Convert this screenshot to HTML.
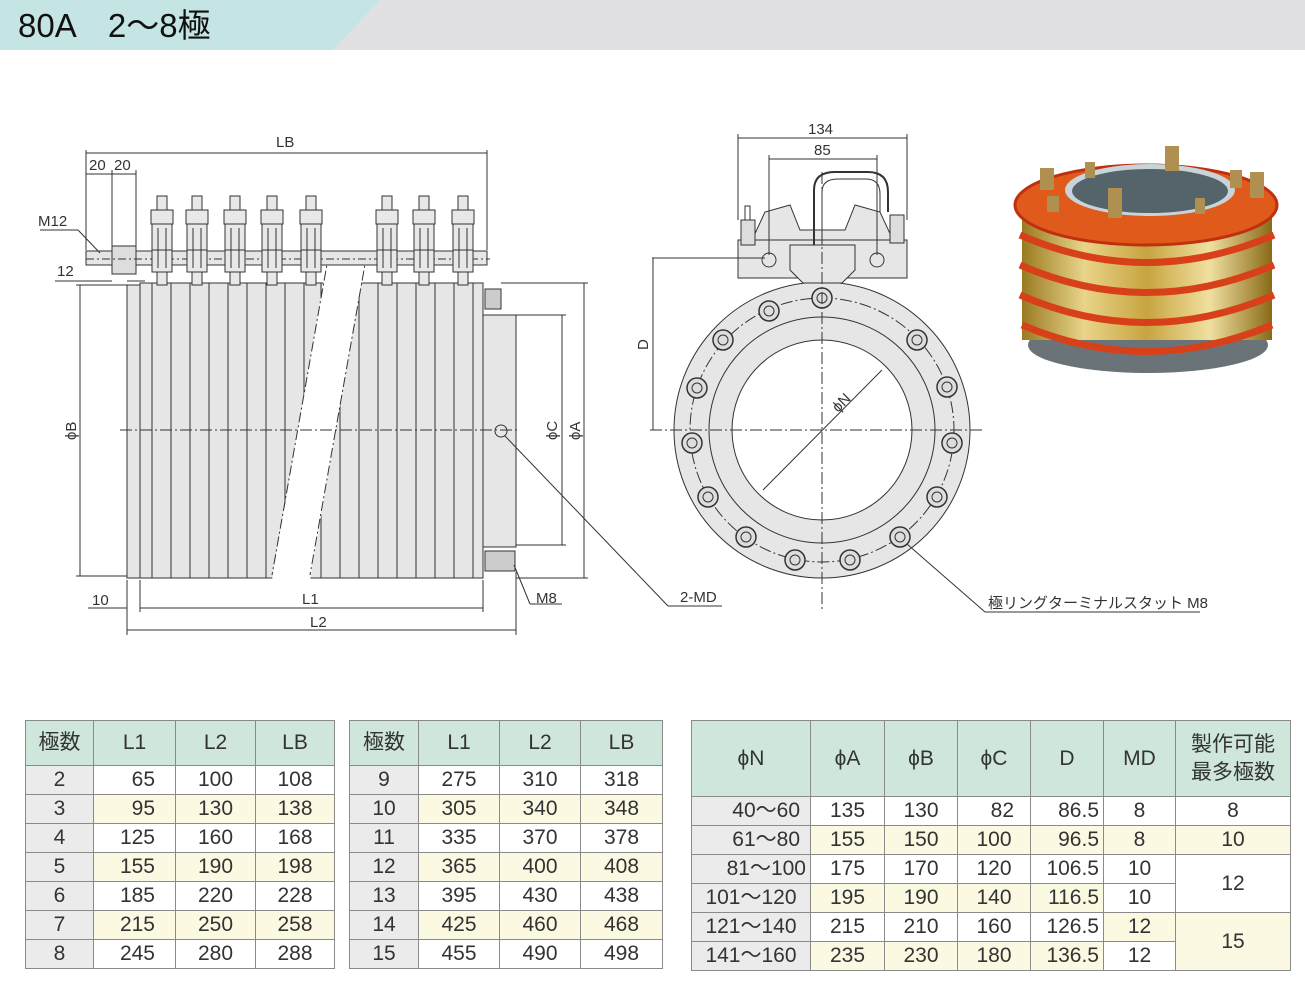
<!DOCTYPE html>
<html><head><meta charset="utf-8">
<style>
body{margin:0;width:1305px;height:987px;background:#fff;position:relative;overflow:hidden;font-family:"Liberation Sans","Noto Sans CJK JP",sans-serif;}
svg{position:absolute;left:0;top:0}
table{position:absolute;border-collapse:collapse;font-size:21px;color:#333;table-layout:fixed}
td{border:1px solid #8a8a8a;height:28px;padding:0;text-align:center;line-height:28px}
tr.h td{background:#cfe7da;height:44px}
td.g{background:#ebebeb}
tr.y td{background:#fcf9e3}
tr.y td.g{background:#ebebeb}
td.r{text-align:right;padding-right:20px}
td.w{background:#fff !important}
td.yy{background:#fcf9e3 !important}
</style></head><body>
<svg width="1305" height="987" viewBox="0 0 1305 987" font-family="Liberation Sans, Noto Sans CJK JP, sans-serif">
<defs>
<linearGradient id="gold" x1="0" x2="1" y1="0" y2="0">
<stop offset="0" stop-color="#9a7a20"/><stop offset="0.25" stop-color="#e8d48a"/><stop offset="0.5" stop-color="#c8a440"/><stop offset="0.75" stop-color="#f0e0a0"/><stop offset="1" stop-color="#8a6a18"/></linearGradient>
<g id="t" fill="#e8e8e8" stroke="#333" stroke-width="1"><rect x="-5" y="196" width="10" height="14"/><rect x="-11" y="210" width="22" height="14"/><rect x="-10" y="224" width="20" height="26"/><rect x="-10" y="250" width="20" height="22"/><rect x="-5" y="272" width="10" height="13"/><line x1="-4" y1="228" x2="-4" y2="268"/><line x1="4" y1="228" x2="4" y2="268"/></g>
</defs>
<!-- header -->
<rect x="0" y="0" width="1305" height="50" fill="#e1e1e5"/>
<polygon points="0,0 380,0 333,50 0,50" fill="#c5e4e4"/>
<text x="18" y="37" font-size="33" fill="#111">80A　2～8極</text>

<g stroke="#333" stroke-width="1" fill="none" font-size="15">
<!-- LEFT DRAWING -->
<rect x="127" y="285" width="13" height="293" fill="#e6e6e6"/>
<g fill="#e6e6e6">
<rect x="140" y="283" width="12" height="295"/><rect x="152" y="283" width="19" height="295"/><rect x="171" y="283" width="19" height="295"/><rect x="190" y="283" width="19" height="295"/><rect x="209" y="283" width="19" height="295"/><rect x="228" y="283" width="19" height="295"/><rect x="247" y="283" width="19" height="295"/><rect x="266" y="283" width="19" height="295"/><rect x="285" y="283" width="19" height="295"/><rect x="304" y="283" width="19" height="295"/>
<rect x="321" y="283" width="19" height="295"/><rect x="340" y="283" width="19" height="295"/><rect x="359" y="283" width="19" height="295"/><rect x="378" y="283" width="19" height="295"/><rect x="397" y="283" width="19" height="295"/><rect x="416" y="283" width="19" height="295"/><rect x="435" y="283" width="19" height="295"/><rect x="454" y="283" width="19" height="295"/><rect x="473" y="283" width="10" height="295"/>
</g>
<polygon points="329,250 367,250 310,580 272,580" fill="#fff" stroke="none"/>
<line x1="329" y1="253" x2="272" y2="575" stroke-dasharray="10,3,2,3"/>
<line x1="367" y1="253" x2="310" y2="575" stroke-dasharray="10,3,2,3"/>
<!-- end block -->
<rect x="483" y="315" width="33" height="232" fill="#e6e6e6"/>
<rect x="485" y="289" width="16" height="20" fill="#ccc"/>
<rect x="485" y="551" width="30" height="20" fill="#ccc"/>
<circle cx="501" cy="431" r="6"/>
<!-- bus bar and stud -->
<rect x="86" y="251" width="401" height="14" fill="#e6e6e6"/>
<rect x="112" y="246" width="24" height="28" fill="#ddd"/>
<line x1="86" y1="259" x2="490" y2="259" stroke-dasharray="8,3,2,3"/>
<use href="#t" x="162"/><use href="#t" x="197"/><use href="#t" x="235"/><use href="#t" x="272"/><use href="#t" x="311"/><use href="#t" x="387"/><use href="#t" x="424"/><use href="#t" x="463"/>
<line x1="120" y1="430" x2="520" y2="430" stroke-dasharray="12,3,2,3"/>
<!-- dimensions -->
<line x1="86" y1="153" x2="487" y2="153"/><line x1="86" y1="150" x2="86" y2="250"/><line x1="487" y1="150" x2="487" y2="250"/>
<line x1="86" y1="174" x2="136" y2="174"/><line x1="112" y1="170" x2="112" y2="246"/><line x1="136" y1="170" x2="136" y2="246"/>
<line x1="40" y1="230" x2="78" y2="230"/><line x1="78" y1="230" x2="100" y2="253"/>
<line x1="55" y1="281" x2="112" y2="281"/><line x1="127" y1="281" x2="145" y2="281"/>
<line x1="80" y1="285" x2="80" y2="576"/><line x1="76" y1="285" x2="127" y2="285"/><line x1="76" y1="576" x2="127" y2="576"/>
<line x1="127" y1="580" x2="127" y2="635"/><line x1="140" y1="580" x2="140" y2="612"/><line x1="483" y1="580" x2="483" y2="612"/><line x1="516" y1="572" x2="516" y2="635"/>
<line x1="88" y1="608" x2="127" y2="608"/><line x1="140" y1="608" x2="483" y2="608"/>
<line x1="127" y1="630" x2="516" y2="630"/>
<line x1="516" y1="315" x2="566" y2="315"/><line x1="516" y1="545" x2="566" y2="545"/><line x1="562" y1="315" x2="562" y2="545"/>
<line x1="501" y1="283" x2="588" y2="283"/><line x1="516" y1="578" x2="588" y2="578"/><line x1="584" y1="283" x2="584" y2="578"/>
<line x1="505" y1="436" x2="668" y2="606"/><line x1="668" y1="606" x2="722" y2="606"/>
<line x1="514" y1="565" x2="530" y2="604"/><line x1="530" y1="604" x2="562" y2="604"/>

<!-- MIDDLE DRAWING -->
<circle cx="822" cy="430" r="148" fill="#e6e6e6"/>
<circle cx="822" cy="430" r="113"/>
<circle cx="822" cy="430" r="90" fill="#fff"/>
<circle cx="822" cy="430" r="132" stroke-dasharray="12,3,2,3"/>
<rect x="738" y="240" width="169" height="38" fill="#e6e6e6"/>
<polygon points="752,240 765,212 790,205 800,230 845,230 855,205 880,212 893,240" fill="#e6e6e6"/>
<polygon points="790,245 855,245 855,270 842,283 803,283 790,270" fill="#e6e6e6"/>
<path d="M814,245 V190 Q814,172 835,172 H868 Q888,172 888,192 V212" stroke-width="2"/>
<path d="M822,245 V192 Q822,179 838,179 H866 Q880,179 880,194 V212"/>
<rect x="741" y="220" width="14" height="25" fill="#ddd"/><rect x="745" y="206" width="5" height="14"/>
<rect x="890" y="215" width="14" height="28" fill="#ddd"/>
<circle cx="769" cy="260" r="7"/><circle cx="877" cy="260" r="7"/>
<g fill="#ddd" stroke-width="1.5">
<circle cx="822" cy="298" r="10"/><circle cx="769" cy="311" r="10"/><circle cx="723" cy="340" r="10"/><circle cx="697" cy="388" r="10"/><circle cx="692" cy="443" r="10"/><circle cx="708" cy="497" r="10"/><circle cx="746" cy="537" r="10"/><circle cx="795" cy="560" r="10"/><circle cx="850" cy="560" r="10"/><circle cx="900" cy="537" r="10"/><circle cx="937" cy="497" r="10"/><circle cx="952" cy="443" r="10"/><circle cx="947" cy="387" r="10"/><circle cx="917" cy="340" r="10"/>
</g>
<g stroke-width="1">
<circle cx="822" cy="298" r="5"/><circle cx="769" cy="311" r="5"/><circle cx="723" cy="340" r="5"/><circle cx="697" cy="388" r="5"/><circle cx="692" cy="443" r="5"/><circle cx="708" cy="497" r="5"/><circle cx="746" cy="537" r="5"/><circle cx="795" cy="560" r="5"/><circle cx="850" cy="560" r="5"/><circle cx="900" cy="537" r="5"/><circle cx="937" cy="497" r="5"/><circle cx="952" cy="443" r="5"/><circle cx="947" cy="387" r="5"/><circle cx="917" cy="340" r="5"/>
</g>
<line x1="650" y1="430" x2="985" y2="430" stroke-dasharray="12,3,2,3"/>
<line x1="822" y1="172" x2="822" y2="612" stroke-dasharray="12,3,2,3"/>
<line x1="763" y1="490" x2="882" y2="370"/>
<line x1="738" y1="138" x2="907" y2="138"/><line x1="738" y1="134" x2="738" y2="220"/><line x1="907" y1="134" x2="907" y2="220"/>
<line x1="769" y1="159" x2="877" y2="159"/><line x1="769" y1="155" x2="769" y2="255"/><line x1="877" y1="155" x2="877" y2="255"/>
<line x1="652" y1="258" x2="765" y2="258"/><line x1="653" y1="258" x2="653" y2="430"/>
<line x1="907" y1="544" x2="985" y2="612"/><line x1="985" y1="612" x2="1200" y2="612"/>
</g>
<g fill="#333" font-size="15">
<text x="276" y="147">LB</text><text x="89" y="170">20</text><text x="114" y="170">20</text>
<text x="38" y="226">M12</text><text x="57" y="276">12</text>
<text x="92" y="605">10</text><text x="302" y="604">L1</text><text x="310" y="627">L2</text>
<text x="536" y="603">M8</text><text x="680" y="602">2-MD</text>
<text transform="translate(76,440) rotate(-90)">ϕB</text>
<text transform="translate(557,440) rotate(-90)">ϕC</text>
<text transform="translate(580,440) rotate(-90)">ϕA</text>
<text transform="translate(648,350) rotate(-90)">D</text>
<text transform="translate(838,413) rotate(-45)">ϕN</text>
<text x="808" y="134">134</text><text x="814" y="155">85</text>
<text x="988" y="608">極リングターミナルスタット M8</text>
</g>
<!-- photo -->
<ellipse cx="1148" cy="345" rx="120" ry="28" fill="#6a7478"/>
<rect x="1022" y="205" width="250" height="135" fill="url(#gold)"/>
<g fill="none" stroke="#d8401a" stroke-width="7">
<path d="M1020,235 Q1146,290 1274,235"/><path d="M1020,265 Q1146,320 1274,265"/><path d="M1020,295 Q1146,350 1274,295"/><path d="M1022,325 Q1146,378 1272,325"/>
</g>
<ellipse cx="1146" cy="205" rx="131" ry="40" fill="#e05a1c" stroke="#c03010" stroke-width="3"/>
<ellipse cx="1150" cy="190" rx="85" ry="26" fill="#c8d4d8"/>
<ellipse cx="1150" cy="191" rx="78" ry="22" fill="#55636a"/>
<g fill="#b09050"><rect x="1040" y="168" width="14" height="22"/><rect x="1085" y="162" width="10" height="16"/><rect x="1165" y="146" width="14" height="25"/><rect x="1230" y="170" width="12" height="18"/><rect x="1250" y="172" width="14" height="26"/><rect x="1108" y="188" width="14" height="30"/><rect x="1195" y="198" width="10" height="16"/><rect x="1047" y="196" width="12" height="16"/></g>
</svg>

<table style="left:25px;top:720px;width:309px">
<col style="width:68px"><col style="width:82px"><col style="width:80px"><col style="width:79px">
<tr class="h"><td>極数</td><td>L1</td><td>L2</td><td>LB</td></tr>
<tr><td class="g">2</td><td class="r">65</td><td>100</td><td>108</td></tr>
<tr class="y"><td class="g">3</td><td class="r">95</td><td>130</td><td>138</td></tr>
<tr><td class="g">4</td><td class="r">125</td><td>160</td><td>168</td></tr>
<tr class="y"><td class="g">5</td><td class="r">155</td><td>190</td><td>198</td></tr>
<tr><td class="g">6</td><td class="r">185</td><td>220</td><td>228</td></tr>
<tr class="y"><td class="g">7</td><td class="r">215</td><td>250</td><td>258</td></tr>
<tr><td class="g">8</td><td class="r">245</td><td>280</td><td>288</td></tr>
</table>
<table style="left:349px;top:720px;width:313px">
<col style="width:69px"><col style="width:81px"><col style="width:81px"><col style="width:82px">
<tr class="h"><td>極数</td><td>L1</td><td>L2</td><td>LB</td></tr>
<tr><td class="g">9</td><td>275</td><td>310</td><td>318</td></tr>
<tr class="y"><td class="g">10</td><td>305</td><td>340</td><td>348</td></tr>
<tr><td class="g">11</td><td>335</td><td>370</td><td>378</td></tr>
<tr class="y"><td class="g">12</td><td>365</td><td>400</td><td>408</td></tr>
<tr><td class="g">13</td><td>395</td><td>430</td><td>438</td></tr>
<tr class="y"><td class="g">14</td><td>425</td><td>460</td><td>468</td></tr>
<tr><td class="g">15</td><td>455</td><td>490</td><td>498</td></tr>
</table>
<table style="left:691px;top:720px;width:599px">
<col style="width:119px"><col style="width:74px"><col style="width:73px"><col style="width:73px"><col style="width:73px"><col style="width:72px"><col style="width:115px">
<tr class="h" style="height:76px"><td style="height:74px">ϕN</td><td>ϕA</td><td>ϕB</td><td>ϕC</td><td>D</td><td>MD</td><td style="line-height:28px">製作可能<br>最多極数</td></tr>
<tr><td class="g" style="text-align:right;padding-right:10px">40～60</td><td>135</td><td>130</td><td class="r" style="padding-right:16px">82</td><td style="text-align:right;padding-right:4px">86.5</td><td>8</td><td>8</td></tr>
<tr class="y"><td class="g" style="text-align:right;padding-right:10px">61～80</td><td>155</td><td>150</td><td>100</td><td style="text-align:right;padding-right:4px">96.5</td><td>8</td><td>10</td></tr>
<tr><td class="g" style="text-align:right;padding-right:4px">81～100</td><td>175</td><td>170</td><td>120</td><td style="text-align:right;padding-right:4px">106.5</td><td>10</td><td rowspan="2" class="w">12</td></tr>
<tr class="y"><td class="g">101～120</td><td>195</td><td>190</td><td>140</td><td style="text-align:right;padding-right:4px">116.5</td><td class="w">10</td></tr>
<tr><td class="g">121～140</td><td>215</td><td>210</td><td>160</td><td style="text-align:right;padding-right:4px">126.5</td><td class="yy">12</td><td rowspan="2" class="yy">15</td></tr>
<tr class="y"><td class="g">141～160</td><td>235</td><td>230</td><td>180</td><td style="text-align:right;padding-right:4px">136.5</td><td class="w">12</td></tr>
</table>
</body></html>
